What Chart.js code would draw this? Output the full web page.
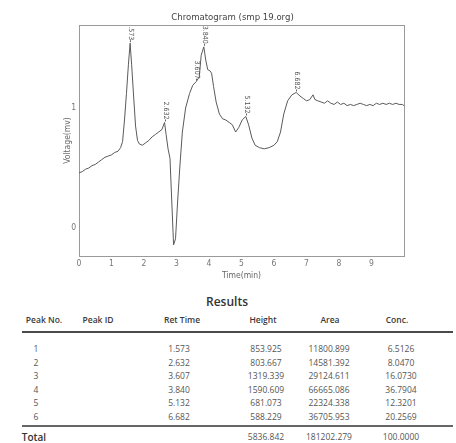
<!DOCTYPE html>
<html>
<head>
<meta charset="utf-8">
<title>Chromatogram (smp 19.org)</title>
<script src="https://cdn.jsdelivr.net/npm/chart.js@4.4.1/dist/chart.umd.min.js"></script>
<style>
    body{
        margin:0;
        background:#fff;
    }
    #wrap{
        position:relative;
        width:456px;
        height:443px;
        overflow:hidden;
        background:#fff;
    }
    .cell{
        position:absolute;
        transform:translate(-50%,-50%);
        white-space:nowrap;
        font-family:"Open Sans", sans-serif;
        font-size:8.5px;
        line-height:10px;
        color:#555;
    }
    .head{
        font-weight:600;
        color:#3a3a3a;
    }
    .rule{
        position:absolute;
        left:22px;
        width:431px;
    }
</style>
</head>
<body>
<div id="wrap">
    <canvas id="chromChart" width="456" height="285"></canvas>
</div>

<script>
// detector trace, time in minutes / voltage
const times = [
    0.00, 0.10, 0.20, 0.30, 0.40, 0.50, 0.60, 0.70, 0.80, 0.90,
    1.00, 1.10, 1.20, 1.28, 1.34, 1.40, 1.46, 1.52, 1.573, 1.62,
    1.68, 1.74, 1.80, 1.86, 1.95, 2.05, 2.15, 2.25, 2.35, 2.45,
    2.55, 2.632, 2.68, 2.74, 2.80, 2.85, 2.91, 2.97, 3.03, 3.10,
    3.18, 3.28, 3.40, 3.50, 3.607, 3.70, 3.76, 3.840, 3.90, 3.96,
    4.03, 4.08, 4.14, 4.22, 4.32, 4.42, 4.52, 4.62, 4.72, 4.82,
    4.92, 5.02, 5.132, 5.22, 5.32, 5.42, 5.55, 5.70, 5.85, 6.00,
    6.10, 6.20, 6.30, 6.42, 6.55, 6.682, 6.80, 6.90, 7.00, 7.10,
    7.20, 7.26, 7.35, 7.45, 7.55, 7.65, 7.75, 7.85, 7.95, 8.05,
    8.15, 8.25, 8.35, 8.45, 8.55, 8.65, 8.75, 8.85, 8.95, 9.05,
    9.15, 9.25, 9.35, 9.45, 9.55, 9.65, 9.75, 9.85, 9.95, 10.00
];
const voltage = [
    0.46, 0.47, 0.49, 0.50, 0.52, 0.53, 0.55, 0.57, 0.59, 0.60,
    0.61, 0.63, 0.64, 0.67, 0.72, 0.90, 1.12, 1.36, 1.54, 1.36,
    1.10, 0.85, 0.73, 0.70, 0.69, 0.71, 0.73, 0.76, 0.78, 0.80,
    0.82, 0.88, 0.78, 0.66, 0.58, 0.25, -0.14, -0.09, 0.20, 0.50,
    0.80, 1.00, 1.12, 1.19, 1.22, 1.26, 1.44, 1.51, 1.40, 1.32,
    1.31, 1.29, 1.18, 1.05, 0.95, 0.91, 0.90, 0.88, 0.86, 0.80,
    0.84, 0.90, 0.93, 0.86, 0.75, 0.69, 0.67, 0.66, 0.67, 0.69,
    0.72, 0.80, 0.95, 1.06, 1.11, 1.13, 1.10, 1.08, 1.06, 1.07,
    1.11, 1.07, 1.06, 1.05, 1.04, 1.06, 1.04, 1.03, 1.05, 1.03,
    1.04, 1.02, 1.03, 1.02, 1.03, 1.04, 1.03, 1.02, 1.03, 1.02,
    1.04, 1.03, 1.04, 1.03, 1.04, 1.03, 1.04, 1.03, 1.03, 1.02
];

// peak table
const peakNo = [1, 2, 3, 4, 5, 6];
const retTimes = [1.573, 2.632, 3.607, 3.840, 5.132, 6.682];
const heights = [853.925, 803.667, 1319.339, 1590.609, 681.073, 588.229];
const areas = [11800.899, 14581.392, 29124.611, 66665.086, 22324.338, 36705.953];
const concs = [6.5126, 8.0470, 16.0730, 36.7904, 12.3201, 20.2569];
const totals = [5836.842, 181202.279, 100.0000];

const yTicks = [0, 1];

const smallFont = '"Liberation Sans Narrow", "DejaVu Sans Condensed", sans-serif';

const framePlugin = {
    id: 'frame',
    beforeDatasetsDraw(chart){
        const a = chart.chartArea;
        const c = chart.ctx;
        c.save();
        c.strokeStyle = '#9a9a9a';
        c.lineWidth = 1;
        c.strokeRect(a.left + 0.5, a.top + 0.5, a.width, a.height);
        c.restore();
    },
    afterDraw(chart){
        const a = chart.chartArea;
        const c = chart.ctx;
        c.save();
        c.fillStyle = '#444';
        c.font = '9.5px ' + smallFont;
        c.textAlign = 'center';
        c.textBaseline = 'middle';
        c.fillText('Chromatogram (smp 19.org)', a.left + a.width / 2 - 9, a.top - 7);

        c.fillStyle = '#666';
        c.font = '8.5px ' + smallFont;
        c.fillText('Time(min)', a.left + a.width / 2, a.bottom + 20);

        c.translate(a.left - 11, a.top + a.height / 2);
        c.rotate(-Math.PI / 2);
        c.fillText('Voltage(mv)', 0, 0);
        c.restore();
    }
};

// retention time written top-to-bottom, ending just above each peak
const peakLabels = {
    id: 'peakLabels',
    afterDatasetsDraw(chart){
        const xs = chart.scales.x;
        const ys = chart.scales.y;
        const a = chart.chartArea;
        const c = chart.ctx;
        c.save();
        c.beginPath();
        c.rect(a.left, a.top + 1, a.width, a.height);
        c.clip();
        c.fillStyle = '#555';
        c.strokeStyle = '#666';
        c.lineWidth = 1;
        c.font = '7px ' + smallFont;
        c.textAlign = 'right';
        c.textBaseline = 'middle';
        retTimes.forEach(function(t){
            const i = times.indexOf(t);
            const px = Math.round(xs.getPixelForValue(t)) + 0.5;
            const py = ys.getPixelForValue(voltage[i]);
            c.beginPath();
            c.moveTo(px, py - 1);
            c.lineTo(px, py - 3);
            c.stroke();
            c.save();
            c.translate(px, py - 3);
            c.rotate(Math.PI / 2);
            c.fillText(t.toFixed(3), 0, 0);
            c.restore();
        });
        c.restore();
    }
};

new Chart(document.getElementById('chromChart'), {
    type: 'line',
    data: {
        datasets: [{
            data: times.map(function(t, i){ return {x: t, y: voltage[i]}; }),
            borderColor: '#5a5a5a',
            borderWidth: 1,
            pointRadius: 0,
            tension: 0,
            fill: false
        }]
    },
    options: {
        responsive: false,
        animation: false,
        layout: { padding: { top: 25, right: 52, left: 0, bottom: 0 } },
        plugins: {
            legend: { display: false },
            tooltip: { enabled: false }
        },
        scales: {
            x: {
                type: 'linear',
                min: 0,
                max: 10,
                afterFit: function(s){ s.height = 29; },
                grid: { display: false, drawTicks: false },
                border: { display: false },
                ticks: {
                    stepSize: 1,
                    padding: 3,
                    maxRotation: 0,
                    color: '#777',
                    font: { family: smallFont, size: 8.5 },
                    callback: function(v){ return v < 10 ? v : ''; }
                }
            },
            y: {
                type: 'linear',
                min: -0.233,
                max: 1.692,
                afterFit: function(s){ s.width = 79; },
                afterBuildTicks: function(s){
                    s.ticks = yTicks.map(function(v){ return {value: v}; });
                },
                grid: { display: false, drawTicks: false },
                border: { display: false },
                ticks: {
                    padding: 3,
                    color: '#777',
                    font: { family: smallFont, size: 8.5 }
                }
            }
        }
    },
    plugins: [framePlugin, peakLabels]
});

// results table under the chart
const wrap = document.getElementById('wrap');

function addText(text, x, y, cls, style){
    const d = document.createElement('div');
    d.className = 'cell' + (cls ? ' ' + cls : '');
    d.textContent = text;
    d.style.left = x + 'px';
    d.style.top = y + 'px';
    if(style) Object.assign(d.style, style);
    wrap.appendChild(d);
}

function addRule(y, h, color){
    const r = document.createElement('div');
    r.className = 'rule';
    r.style.top = y + 'px';
    r.style.height = h + 'px';
    r.style.background = color;
    wrap.appendChild(r);
}

addText('Results', 227, 302, 'head', { fontSize: '12px', lineHeight: '14px', color: '#333' });

const headers = ['Peak No.', 'Peak ID', 'Ret Time', 'Height', 'Area', 'Conc.'];
const headerX = [44, 98, 182, 263, 330, 397];
headers.forEach(function(h, i){
    addText(h, headerX[i], 320, 'head');
});

addRule(331, 2, '#4a4a4a');

const colX = [36, 179, 266, 329, 401];
peakNo.forEach(function(n, i){
    const y = 349 + i * 13.6;
    addText(String(n), colX[0], y);
    addText(retTimes[i].toFixed(3), colX[1], y);
    addText(heights[i].toFixed(3), colX[2], y);
    addText(areas[i].toFixed(3), colX[3], y);
    addText(concs[i].toFixed(4), colX[4], y);
});

addRule(425, 1.5, '#666');

addText('Total', 34, 437, 'head', { fontSize: '10px', color: '#333' });
addText(totals[0].toFixed(3), colX[2], 437);
addText(totals[1].toFixed(3), colX[3], 437);
addText(totals[2].toFixed(4), colX[4], 437);
</script>
</body>
</html>
